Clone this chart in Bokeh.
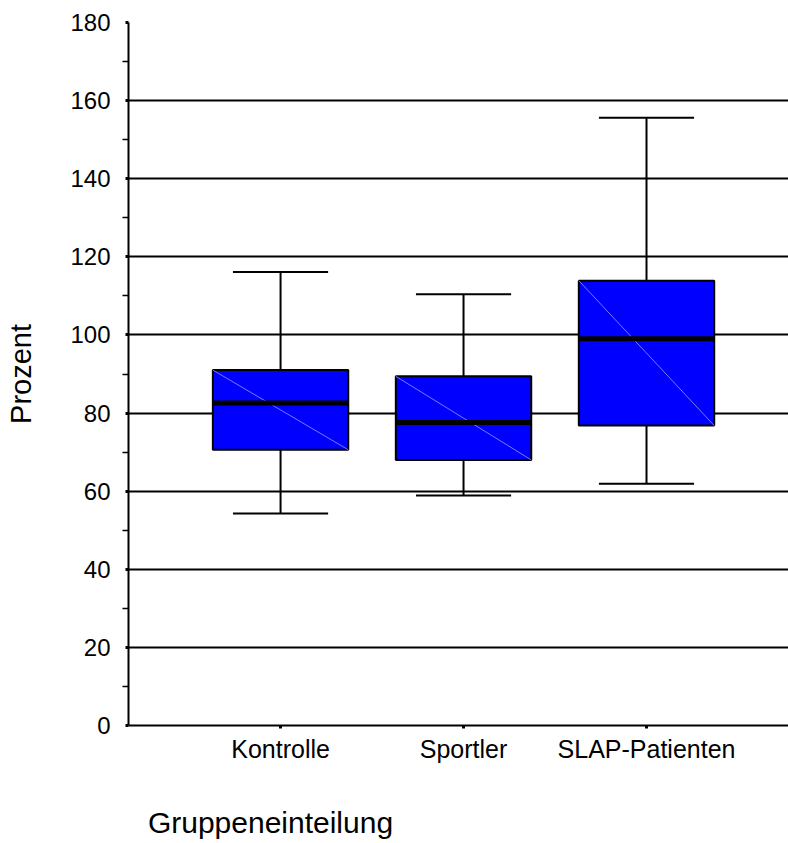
from bokeh.plotting import figure
from bokeh.models import Range1d, FixedTicker, LinearAxis, ColumnDataSource
from bokeh.embed import file_html
from bokeh.resources import INLINE

# ---- data ----
categories = ["Kontrolle", "Sportler", "SLAP-Patienten"]
whisker_low = [54.3, 58.9, 61.9]
q1 = [70.6, 68.0, 76.8]
median = [82.6, 77.6, 99.0]
q3 = [91.0, 89.4, 113.9]
whisker_high = [116.1, 110.4, 155.6]
y_major_ticks = [0, 20, 40, 60, 80, 100, 120, 140, 160, 180]
y_minor_ticks = [10, 30, 50, 70, 90, 110, 130, 150, 170]
grid_ticks = [20, 40, 60, 80, 100, 120, 140, 160, 180]
x_title = "Gruppeneinteilung"
y_title = "Prozent"

BOX_W = 0.74
CAP_W = 0.52
FONT = "Liberation Sans"
X_START, X_END = 0.169, 3.776
X_TITLE_CENTER = 0.945   # x-axis position under which the x title is centred

pos = [i + 1 for i in range(len(categories))]
src = ColumnDataSource(dict(
    x=pos,
    left=[x - BOX_W / 2 for x in pos],
    right=[x + BOX_W / 2 for x in pos],
    cap_l=[x - CAP_W / 2 for x in pos],
    cap_r=[x + CAP_W / 2 for x in pos],
    lo=whisker_low, q1=q1, med=median, q3=q3, hi=whisker_high,
))

p = figure(width=788, height=843, output_backend="svg", toolbar_location=None,
           x_range=Range1d(X_START, X_END), y_range=Range1d(0, 180),
           title_location=None, min_border_left=128, min_border_right=0,
           min_border_top=22, min_border_bottom=118)
p.outline_line_color = None
p.background_fill_color = "white"
p.border_fill_color = "white"

# grid
p.xgrid.visible = False
p.ygrid.ticker = FixedTicker(ticks=grid_ticks)
p.ygrid.grid_line_color = "black"
p.ygrid.grid_line_width = 2

# whiskers and caps
p.segment(x0="x", y0="q3", x1="x", y1="hi", source=src, line_color="black", line_width=2)
p.segment(x0="x", y0="q1", x1="x", y1="lo", source=src, line_color="black", line_width=2)
p.segment(x0="cap_l", y0="hi", x1="cap_r", y1="hi", source=src, line_color="black", line_width=2)
p.segment(x0="cap_l", y0="lo", x1="cap_r", y1="lo", source=src, line_color="black", line_width=2)

# boxes
p.vbar(x="x", width=BOX_W, bottom="q1", top="q3", source=src,
       fill_color="#0000ff", line_color="black", line_width=2)
# thin diagonal
p.segment(x0="left", y0="q3", x1="right", y1="q1", source=src,
          line_color="#7a7aff", line_width=1)
# median
p.segment(x0="left", y0="med", x1="right", y1="med", source=src,
          line_color="black", line_width=5)

# axes
p.yaxis.ticker = FixedTicker(ticks=y_major_ticks, minor_ticks=y_minor_ticks)
p.xaxis.ticker = FixedTicker(ticks=pos)
p.xaxis.major_label_overrides = {x: c for x, c in zip(pos, categories)}
p.xaxis.minor_tick_line_color = None

for ax in (p.xaxis[0], p.yaxis[0]):
    ax.axis_line_width = 2
    ax.axis_line_color = "black"
    ax.major_tick_line_color = "black"
    ax.major_tick_line_width = 3
    ax.major_tick_in = 0
    ax.major_label_text_font = FONT
    ax.major_label_text_color = "black"

p.yaxis.major_tick_out = 3
p.yaxis.minor_tick_out = 6
p.yaxis.minor_tick_in = 0
p.yaxis.minor_tick_line_width = 1.5
p.yaxis.minor_tick_line_color = "black"
p.yaxis.major_label_standoff = 12
p.yaxis.major_label_text_font_size = "24px"
p.yaxis.axis_label = y_title
p.yaxis.axis_label_text_font = FONT
p.yaxis.axis_label_text_font_size = "29px"
p.yaxis.axis_label_text_font_style = "normal"
p.yaxis.axis_label_text_color = "black"
p.yaxis.axis_label_standoff = 30

p.xaxis.major_label_standoff = 6
p.xaxis.major_tick_out = 3
p.xaxis.major_label_text_font_size = "25px"

# x title: a bare extra axis whose single tick label carries the title text,
# left of centre as in the reference
title_axis = LinearAxis(ticker=FixedTicker(ticks=[X_TITLE_CENTER]),
                        major_label_overrides={X_TITLE_CENTER: x_title},
                        axis_line_color=None, major_tick_line_color=None,
                        minor_tick_line_color=None, major_tick_out=0, major_tick_in=0,
                        minor_tick_out=0, minor_tick_in=0,
                        major_label_standoff=40, major_label_text_font=FONT,
                        major_label_text_font_size="30px",
                        major_label_text_color="black")
p.add_layout(title_axis, "below")

open("out.html", "w").write(file_html(p, INLINE))
